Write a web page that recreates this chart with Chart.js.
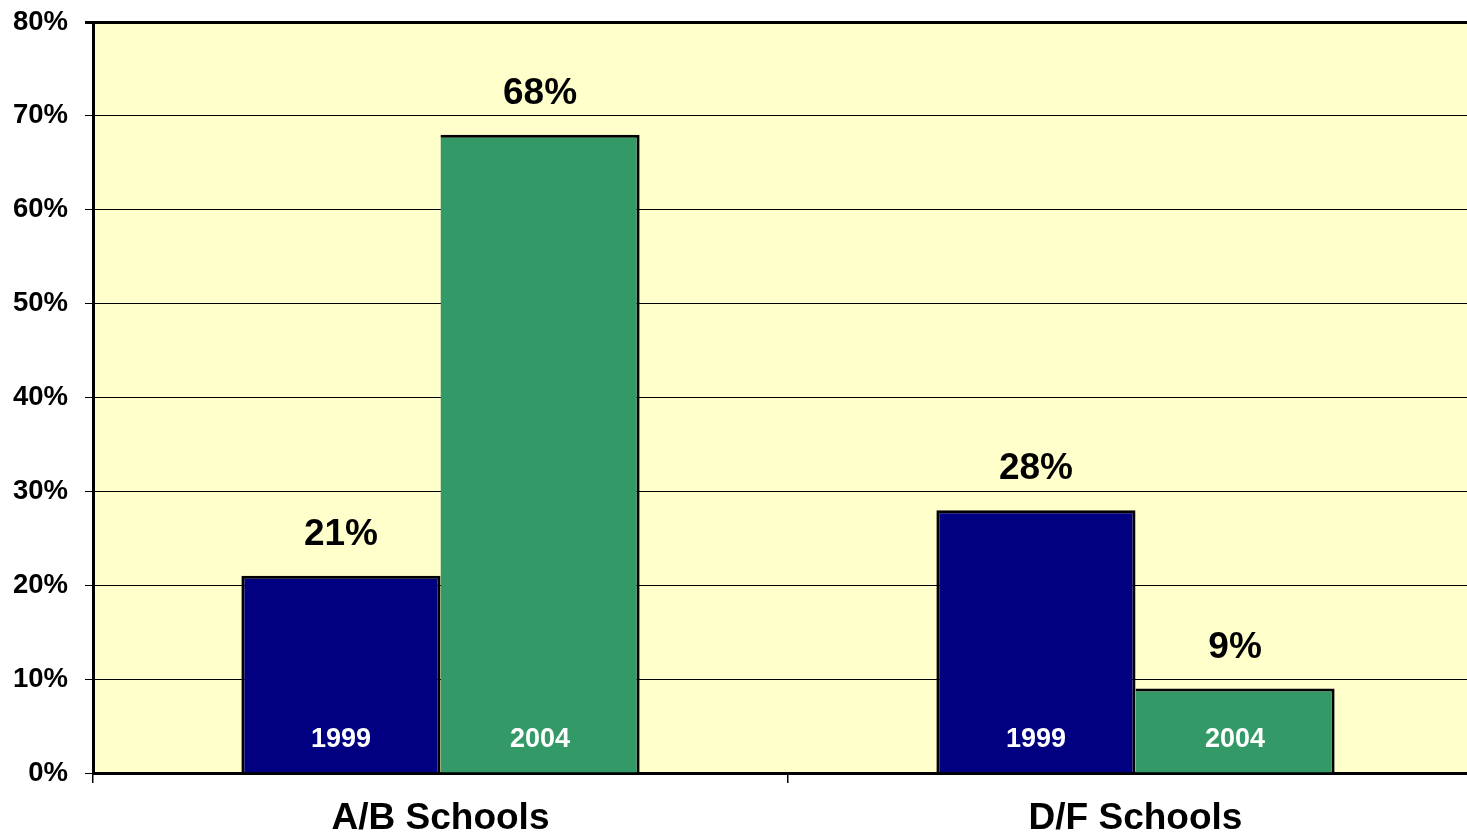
<!DOCTYPE html>
<html lang="en">
<head>
    <meta charset="UTF-8">
    <title>A/B and D/F Schools, 1999 vs 2004</title>
    <script src="https://cdn.jsdelivr.net/npm/chart.js"></script>
    <style>
        html, body {
            margin: 0;
            padding: 0;
            overflow: hidden;
            background: #ffffff;
        }
        .wrap {
            width: 1490px;
            height: 834px;
        }
    </style>
</head>
<body>
    <div class="wrap">
        <canvas id="schoolsChart" width="1490" height="834"></canvas>
    </div>

    <script>
        // Chart data
        const categories = ['A/B Schools', 'D/F Schools'];
        const years = ['1999', '2004'];
        const values1999 = [21, 28];
        const values2004 = [68, 9];
        const yTicks = [0, 10, 20, 30, 40, 50, 60, 70, 80];

        const FONT = '"Liberation Sans", Arial, sans-serif';

        // yellow plot background
        const plotBackground = {
            id: 'plotBackground',
            beforeDraw(chart) {
                const { ctx, chartArea } = chart;
                ctx.save();
                ctx.fillStyle = '#ffffcc';
                ctx.fillRect(chartArea.left, chartArea.top, chartArea.right - chartArea.left, chartArea.bottom - chartArea.top);
                ctx.restore();
            }
        };

        // value labels above the bars, year labels inside them
        const barLabels = {
            id: 'barLabels',
            afterDatasetsDraw(chart) {
                const { ctx } = chart;
                const yScale = chart.scales.y;
                ctx.save();
                ctx.textAlign = 'center';
                ctx.textBaseline = 'middle';
                chart.data.datasets.forEach((ds, di) => {
                    const meta = chart.getDatasetMeta(di);
                    meta.data.forEach((bar, i) => {
                        ctx.fillStyle = '#000000';
                        ctx.font = 'bold 37px ' + FONT;
                        ctx.fillText(ds.data[i] + '%', bar.x, bar.y - 41);
                        ctx.fillStyle = '#ffffff';
                        ctx.font = 'bold 27px ' + FONT;
                        ctx.fillText(years[di], bar.x, yScale.getPixelForValue(0) - 33);
                    });
                });
                ctx.restore();
            }
        };

        new Chart(document.getElementById('schoolsChart'), {
            type: 'bar',
            data: {
                labels: categories,
                datasets: [
                    {
                        label: years[0],
                        data: values1999,
                        backgroundColor: '#000080',
                        borderColor: '#000000',
                        borderWidth: { top: 3, left: 3, right: 3, bottom: 0 },
                        inflateAmount: 0
                    },
                    {
                        label: years[1],
                        data: values2004,
                        backgroundColor: '#339966',
                        borderColor: '#000000',
                        borderWidth: { top: 3, left: 0, right: 3, bottom: 0 },
                        inflateAmount: 0
                    }
                ]
            },
            options: {
                responsive: false,
                animation: false,
                categoryPercentage: 0.573,
                barPercentage: 1.0,
                layout: {
                    padding: { top: 22, right: 7, left: 0, bottom: 0 }
                },
                plugins: {
                    legend: { display: false },
                    tooltip: { enabled: false }
                },
                scales: {
                    x: {
                        grid: {
                            offset: true,
                            drawOnChartArea: false,
                            drawTicks: true,
                            tickLength: 10,
                            color: '#000000',
                            lineWidth: 1.5
                        },
                        border: { color: '#000000', width: 3 },
                        ticks: {
                            color: '#000000',
                            padding: 14,
                            font: { family: FONT, size: 37, weight: 'bold' }
                        },
                        afterFit(scale) { scale.height = 61; }
                    },
                    y: {
                        min: 0,
                        max: 80,
                        afterBuildTicks(scale) {
                            scale.ticks = yTicks.map(v => ({ value: v }));
                        },
                        grid: {
                            color: '#000000',
                            lineWidth: ctx => (ctx.tick && ctx.tick.value === 80 ? 3 : 1),
                            tickLength: 8,
                            drawTicks: true
                        },
                        border: { color: '#000000', width: 3 },
                        ticks: {
                            color: '#000000',
                            padding: 17,
                            font: { family: FONT, size: 27.5, weight: 'bold' },
                            callback: v => v + '%'
                        },
                        afterFit(scale) {
                            scale.width = 93;
                            scale.paddingTop = 0;
                            scale.paddingBottom = 0;
                        }
                    }
                }
            },
            plugins: [plotBackground, barLabels]
        });
    </script>
</body>
</html>
